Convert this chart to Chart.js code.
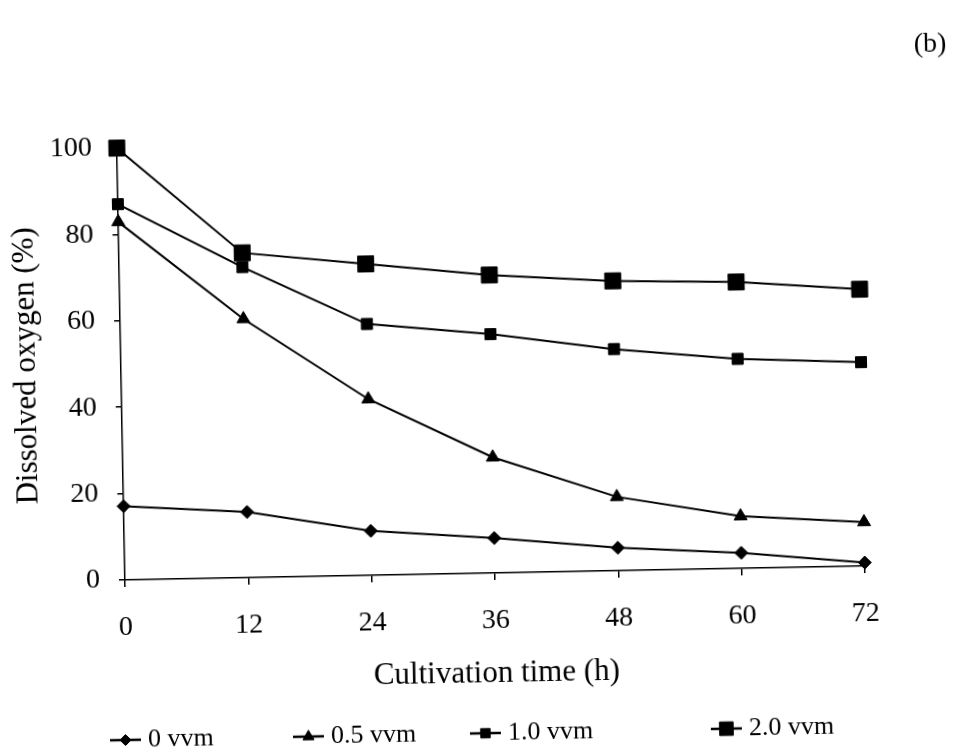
<!DOCTYPE html>
<html>
<head>
<meta charset="utf-8">
<script src="https://cdn.jsdelivr.net/npm/chart.js@4.4.1/dist/chart.umd.min.js"></script>
<style>
  html, body { margin: 0; padding: 0; background: #fff; overflow: hidden; }
  #wrap { width: 967px; height: 756px; }
  /* the printed figure sits slightly tilted on the page */
  #chart { display: block; transform: rotate(-1.08deg); transform-origin: 125px 580px; }
</style>
</head>
<body>
<div id="wrap"><canvas id="chart" width="967" height="756"></canvas></div>
<script>
// Cultivation time (h)
const times = [0, 12, 24, 36, 48, 60, 72];

// Dissolved oxygen (%) for each aeration rate
const do0vvm  = [17.1, 15.2, 10.3, 8.1, 5.3, 3.6, 0.8];
const do05vvm = [82.9, 59.9, 40.8, 26.8, 17.1, 12.1, 10.2];
const do10vvm = [87.0, 71.9, 58.2, 55.3, 51.3, 48.5, 47.2];
const do20vvm = [100, 75.2, 72.1, 69.0, 67.1, 66.3, 64.1];

const seriesNames = ['0 vvm', '0.5 vvm', '1.0 vvm', '2.0 vvm'];

const xTickValues = [0, 12, 24, 36, 48, 60, 72];
const yTickValues = [0, 20, 40, 60, 80, 100];

const xTitle = 'Cultivation time (h)';
const yTitle = 'Dissolved oxygen (%)';
const panelLabel = '(b)';

const SERIF = "'Liberation Serif', 'Times New Roman', serif";
Chart.defaults.font.family = SERIF;
Chart.defaults.color = '#000';

function pts(values) {
  return times.map((t, i) => ({ x: t, y: values[i] }));
}

function series(label, values, style, radius) {
  return {
    label: label,
    data: pts(values),
    borderColor: '#000',
    borderWidth: 2,
    backgroundColor: '#000',
    pointStyle: style,
    pointRadius: radius,
    pointHoverRadius: radius,
    pointBackgroundColor: '#000',
    pointBorderColor: '#000',
    pointBorderWidth: 1,
    tension: 0,
    fill: false,
    clip: false
  };
}

// Legend row: a short line with the series marker, followed by its name
const lineLegend = {
  id: 'lineLegend',
  afterDraw(chart, args, opts) {
    const ctx = chart.ctx;
    ctx.save();
    ctx.font = opts.fontSize + 'px ' + SERIF;
    ctx.textBaseline = 'middle';
    ctx.textAlign = 'left';
    chart.data.datasets.forEach((ds, i) => {
      const x0 = opts.starts[i];
      const y = opts.y;
      ctx.strokeStyle = '#000';
      ctx.fillStyle = '#000';
      ctx.lineWidth = 2.5;
      ctx.beginPath();
      ctx.moveTo(x0, y);
      ctx.lineTo(x0 + opts.symbolWidth, y);
      ctx.stroke();
      ctx.lineWidth = 1;
      Chart.helpers.drawPoint(ctx, {
        pointStyle: ds.pointStyle,
        radius: ds.pointRadius * opts.markerScale,
        rotation: 0,
        borderWidth: 1
      }, x0 + opts.symbolWidth / 2, y);
      ctx.fillText(ds.label, x0 + opts.symbolWidth + opts.gap, y + opts.textShift);
    });
    // panel letter in the upper right corner
    ctx.font = opts.panelFontSize + 'px ' + SERIF;
    ctx.textAlign = 'center';
    ctx.fillText(panelLabel, opts.panelX, opts.panelY);
    ctx.restore();
  }
};

const axisFont = { family: SERIF, size: 28 };

new Chart(document.getElementById('chart'), {
  type: 'line',
  data: {
    datasets: [
      series(seriesNames[0], do0vvm, 'rectRot', 6.5),
      series(seriesNames[1], do05vvm, 'triangle', 7.5),
      series(seriesNames[2], do10vvm, 'rect', 7.8),
      series(seriesNames[3], do20vvm, 'rect', 11.3)
    ]
  },
  options: {
    responsive: false,
    animation: false,
    devicePixelRatio: 1,
    layout: { padding: { left: 10, right: 102, top: 148, bottom: 56 } },
    scales: {
      x: {
        type: 'linear',
        min: 0,
        max: 72,
        afterBuildTicks: (s) => { s.ticks = xTickValues.map(v => ({ value: v })); },
        afterFit: (s) => { s.height = 120; },
        ticks: { font: axisFont, color: '#000', padding: 24, maxRotation: 0, autoSkip: false },
        grid: { display: true, drawOnChartArea: false, drawTicks: true, tickLength: 7, color: '#000', lineWidth: 1.5 },
        border: { display: true, color: '#000', width: 1.5 },
        title: { display: true, text: xTitle, color: '#000', font: { family: SERIF, size: 31 }, padding: { top: 0, bottom: 1 } }
      },
      y: {
        min: 0,
        max: 100,
        afterBuildTicks: (s) => { s.ticks = yTickValues.map(v => ({ value: v })); },
        afterFit: (s) => { s.width = 115; },
        ticks: { font: axisFont, color: '#000', padding: 19 },
        grid: { display: true, drawOnChartArea: false, drawTicks: true, tickLength: 6, color: '#000', lineWidth: 1.5 },
        border: { display: true, color: '#000', width: 1.5 },
        title: { display: true, text: yTitle, color: '#000', font: { family: SERIF, size: 31 }, padding: { top: 2, bottom: 0 } }
      }
    },
    plugins: {
      legend: { display: false },
      tooltip: { enabled: false },
      lineLegend: {
        starts: [107, 290, 467, 708],
        y: 740,
        symbolWidth: 31,
        gap: 7,
        textShift: 0,
        fontSize: 26,
        markerScale: 0.85,
        panelX: 940,
        panelY: 60,
        panelFontSize: 28
      }
    }
  },
  plugins: [lineLegend]
});
</script>
</body>
</html>
